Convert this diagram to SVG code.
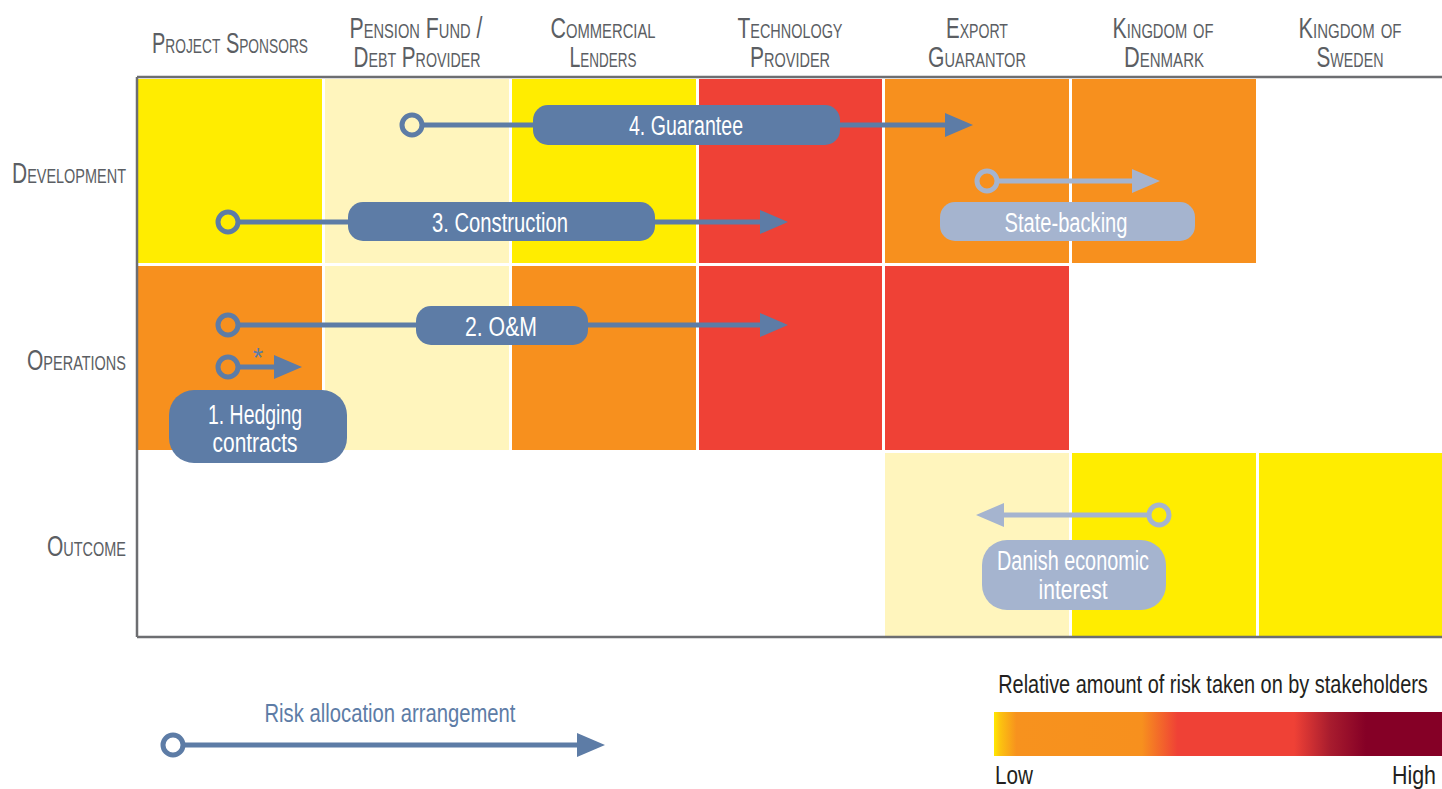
<svg xmlns="http://www.w3.org/2000/svg" width="1442" height="789" viewBox="0 0 1442 789">
<style>
.hd{font-family:"Liberation Sans Narrow","Liberation Sans",sans-serif;font-variant:small-caps;font-size:29px;fill:#5b5e63;text-anchor:middle}
.rl{font-family:"Liberation Sans Narrow","Liberation Sans",sans-serif;font-variant:small-caps;font-size:29px;fill:#5b5e63;text-anchor:end}
.bl{font-family:"Liberation Sans Narrow","Liberation Sans",sans-serif;font-size:27px;fill:#ffffff;text-anchor:middle}
.lg{font-family:"Liberation Sans Narrow","Liberation Sans",sans-serif;font-size:25px}
.y{fill:#FFED00}.p{fill:#FFF5BD}.o{fill:#F7901E}.r{fill:#EF4136}
.bd{fill:#5D7CA6}.bL{fill:#A5B4CF}
.ld{stroke:#5D7CA6;stroke-width:5;fill:none}
.ll{stroke:#A5B4CF;stroke-width:5;fill:none}
.ax{stroke:#6D6E71;stroke-width:2.5;fill:none}
</style>
<defs>
<marker id="ringD" markerUnits="userSpaceOnUse" viewBox="-16 -16 32 32" markerWidth="32" markerHeight="32" refX="10" refY="0" orient="auto"><circle cx="0" cy="0" r="10" fill="none" stroke="#5D7CA6" stroke-width="5"/></marker>
<marker id="ringL" markerUnits="userSpaceOnUse" viewBox="-16 -16 32 32" markerWidth="32" markerHeight="32" refX="10" refY="0" orient="auto"><circle cx="0" cy="0" r="10" fill="none" stroke="#A5B4CF" stroke-width="5"/></marker>
<marker id="arrD" markerUnits="userSpaceOnUse" viewBox="0 -13 30 26" markerWidth="30" markerHeight="26" refX="2" refY="0" orient="auto"><path d="M0,-12 L28,0 L0,12 z" fill="#5D7CA6"/></marker>
<marker id="arrL" markerUnits="userSpaceOnUse" viewBox="0 -13 30 26" markerWidth="30" markerHeight="26" refX="2" refY="0" orient="auto"><path d="M0,-12 L28,0 L0,12 z" fill="#A5B4CF"/></marker>
<linearGradient id="risk" x1="0" y1="0" x2="1" y2="0">
<stop offset="0" stop-color="#FFE800"/>
<stop offset="0.015" stop-color="#FCC110"/>
<stop offset="0.05" stop-color="#F7921E"/>
<stop offset="0.33" stop-color="#F7901E"/>
<stop offset="0.41" stop-color="#EF4136"/>
<stop offset="0.67" stop-color="#EF4136"/>
<stop offset="0.75" stop-color="#A81C2E"/>
<stop offset="0.83" stop-color="#850026"/>
<stop offset="1" stop-color="#850026"/>
</linearGradient>
</defs>
<rect width="1442" height="789" fill="#ffffff"/>

<g id="cells">
<rect class="y" x="138" y="79" width="184" height="184"/>
<rect class="p" x="325" y="79" width="184" height="184"/>
<rect class="y" x="512" y="79" width="184" height="184"/>
<rect class="r" x="699" y="79" width="183" height="184"/>
<rect class="o" x="885" y="79" width="184" height="184"/>
<rect class="o" x="1072" y="79" width="184" height="184"/>
<rect class="o" x="138" y="266" width="184" height="184"/>
<rect class="p" x="325" y="266" width="184" height="184"/>
<rect class="o" x="512" y="266" width="184" height="184"/>
<rect class="r" x="699" y="266" width="183" height="184"/>
<rect class="r" x="885" y="266" width="184" height="184"/>
<rect class="p" x="885" y="453" width="184" height="183"/>
<rect class="y" x="1072" y="453" width="184" height="183"/>
<rect class="y" x="1259" y="453" width="183" height="183"/>
</g>

<g id="axes">
<path class="ax" d="M137,77 V637 M137,77 H1442 M137,637 H1442"/>
</g>

<g id="headers">
<text class="hd" x="230" y="53" textLength="156" lengthAdjust="spacingAndGlyphs">Project Sponsors</text>
<text class="hd" x="416" y="38" textLength="133" lengthAdjust="spacingAndGlyphs">Pension Fund /</text>
<text class="hd" x="417" y="67" textLength="127" lengthAdjust="spacingAndGlyphs">Debt Provider</text>
<text class="hd" x="603" y="38" textLength="105" lengthAdjust="spacingAndGlyphs">Commercial</text>
<text class="hd" x="603" y="67" textLength="67" lengthAdjust="spacingAndGlyphs">Lenders</text>
<text class="hd" x="790" y="38" textLength="105" lengthAdjust="spacingAndGlyphs">Technology</text>
<text class="hd" x="790" y="67" textLength="80" lengthAdjust="spacingAndGlyphs">Provider</text>
<text class="hd" x="977" y="38" textLength="62" lengthAdjust="spacingAndGlyphs">Export</text>
<text class="hd" x="977" y="67" textLength="98" lengthAdjust="spacingAndGlyphs">Guarantor</text>
<text class="hd" x="1163" y="38" textLength="101" lengthAdjust="spacingAndGlyphs">Kingdom of</text>
<text class="hd" x="1164" y="67" textLength="80" lengthAdjust="spacingAndGlyphs">Denmark</text>
<text class="hd" x="1350" y="38" textLength="103" lengthAdjust="spacingAndGlyphs">Kingdom of</text>
<text class="hd" x="1350" y="67" textLength="67" lengthAdjust="spacingAndGlyphs">Sweden</text>
</g>

<g id="rowlabels">
<text class="rl" x="126" y="183" textLength="114" lengthAdjust="spacingAndGlyphs">Development</text>
<text class="rl" x="126" y="370" textLength="99" lengthAdjust="spacingAndGlyphs">Operations</text>
<text class="rl" x="126" y="556" textLength="79" lengthAdjust="spacingAndGlyphs">Outcome</text>
</g>

<g id="connectors">
<path class="ld" d="M422,125 H947" marker-start="url(#ringD)" marker-end="url(#arrD)"/>
<path class="ld" d="M238,222 H762" marker-start="url(#ringD)" marker-end="url(#arrD)"/>
<path class="ld" d="M238,325 H762" marker-start="url(#ringD)" marker-end="url(#arrD)"/>
<path class="ld" d="M238,367 H276" marker-start="url(#ringD)" marker-end="url(#arrD)"/>
<path class="ll" d="M997,181 H1134" marker-start="url(#ringL)" marker-end="url(#arrL)"/>
<path class="ll" d="M1149,515 H1002" marker-start="url(#ringL)" marker-end="url(#arrL)"/>
<path class="ld" d="M183,745 H579" marker-start="url(#ringD)" marker-end="url(#arrD)"/>
</g>

<g id="guarantee">
<rect class="bd" x="533" y="105" width="307" height="40" rx="15"/>
<text class="bl" x="686" y="135" textLength="114" lengthAdjust="spacingAndGlyphs">4. Guarantee</text>
</g>
<g id="construction">
<rect class="bd" x="348" y="202" width="307" height="39" rx="15"/>
<text class="bl" x="500" y="232" textLength="136" lengthAdjust="spacingAndGlyphs">3. Construction</text>
</g>
<g id="om">
<rect class="bd" x="416" y="306" width="172" height="39" rx="15"/>
<text class="bl" x="501" y="336" textLength="72" lengthAdjust="spacingAndGlyphs">2. O&amp;M</text>
</g>
<g id="hedging">
<text x="258" y="367" font-family="Liberation Sans, sans-serif" font-size="27" fill="#5D7CA6" text-anchor="middle">*</text>
<rect class="bd" x="169" y="390" width="178" height="73" rx="25"/>
<text class="bl" x="255" y="424" textLength="94" lengthAdjust="spacingAndGlyphs">1. Hedging</text>
<text class="bl" x="255" y="452" textLength="85" lengthAdjust="spacingAndGlyphs">contracts</text>
</g>
<g id="statebacking">
<rect class="bL" x="940" y="202" width="255" height="39" rx="15"/>
<text class="bl" x="1066" y="232" textLength="123" lengthAdjust="spacingAndGlyphs">State-backing</text>
</g>
<g id="danish">
<rect class="bL" x="982" y="540" width="184" height="70" rx="25"/>
<text class="bl" x="1073" y="570" textLength="152" lengthAdjust="spacingAndGlyphs">Danish economic</text>
<text class="bl" x="1073" y="599" textLength="69" lengthAdjust="spacingAndGlyphs">interest</text>
</g>

<g id="legend">
<text class="lg" x="390" y="722" fill="#5D7CA6" text-anchor="middle" textLength="251" lengthAdjust="spacingAndGlyphs">Risk allocation arrangement</text>
<text class="lg" transform="translate(1213,693) scale(0.8,1)" x="0" y="0" fill="#231F20" text-anchor="middle" textLength="537" lengthAdjust="spacingAndGlyphs">Relative amount of risk taken on by stakeholders</text>
<rect x="994" y="712" width="448" height="44" fill="url(#risk)"/>
<text class="lg" x="995" y="784" fill="#231F20" textLength="38" lengthAdjust="spacingAndGlyphs">Low</text>
<text class="lg" x="1436" y="784" fill="#231F20" text-anchor="end" textLength="44" lengthAdjust="spacingAndGlyphs">High</text>
</g>
</svg>
